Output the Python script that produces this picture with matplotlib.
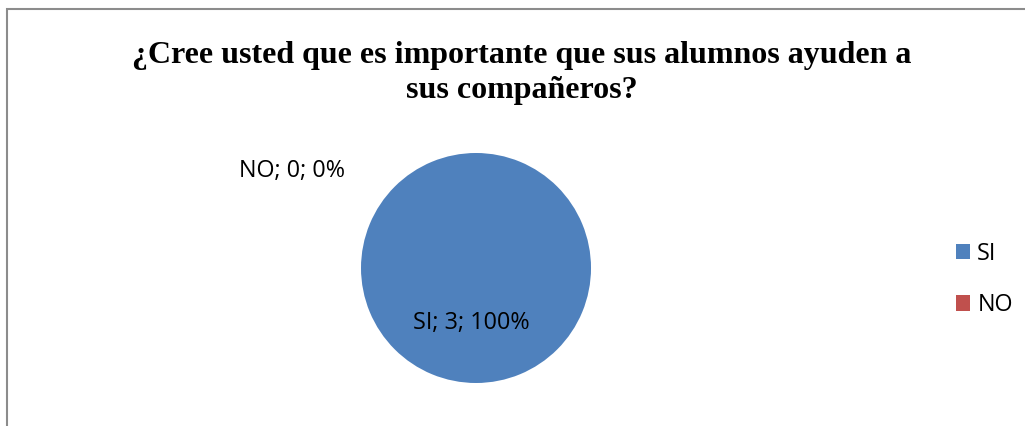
import matplotlib.pyplot as plt
from matplotlib.patches import Rectangle

# data
categories = ['SI', 'NO']
values = [3, 0]
colors = ['#4F81BD', '#C0504D']
title = '¿Cree usted que es importante que sus alumnos ayuden a\nsus compañeros?'

total = sum(values)
labels = ['%s; %d; %d%%' % (c, v, round(100 * v / total)) for c, v in zip(categories, values)]

fig = plt.figure(figsize=(10.25, 4.26), dpi=100)

# outer chart border (only left/top visible)
fig.patches.append(Rectangle((7 / 1025, -0.1), 1.2, 1 - 9 / 426 + 0.1, transform=fig.transFigure,
                             fill=False, edgecolor='#8c8c8c', lw=1.5))

fig.text(0.509, 0.829, title, ha='center', va='center', fontsize=23, fontweight='bold',
         family='Liberation Serif', linespacing=1.3)

ax = fig.add_axes([0.3522, 0.1009, 0.2244, 0.54])
wedges, _ = ax.pie(values, colors=colors, startangle=90, counterclock=False, radius=1)
ax.set_xlim(-1, 1)
ax.set_ylim(-1, 1)
ax.set_aspect('equal')
ax.axis('off')

# data labels
ax.text(-0.043, -0.478, labels[0], ha='center', va='center', fontsize=16.8, family='Open Sans')
ax.text(-1.596, 0.846, labels[1], ha='center', va='center', fontsize=16.8, family='Open Sans')

# legend
fig.legend(wedges, categories, loc='center left', bbox_to_anchor=(0.912, 0.344), frameon=False,
           prop={'family': 'Open Sans', 'size': 16.8}, handlelength=0.62, handleheight=0.62,
           handletextpad=0.3, labelspacing=1.18)

fig.savefig('out.png', dpi=100)
